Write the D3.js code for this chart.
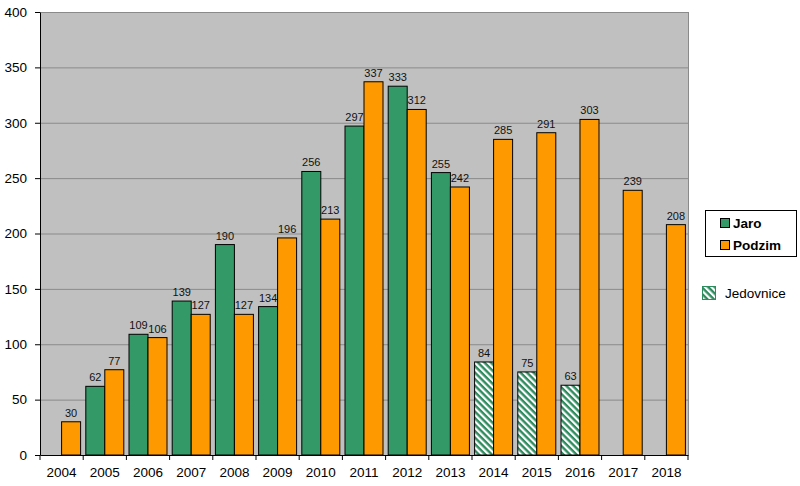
<!DOCTYPE html>
<html><head><meta charset="utf-8">
<script src="https://cdn.jsdelivr.net/npm/d3@7"></script>
<style>body{margin:0;background:#fff}svg{display:block}text{font-family:"Liberation Sans",Arial,sans-serif}</style>
</head><body><svg id="c" width="800" height="486"></svg>
<script>
const years = ["2004","2005","2006","2007","2008","2009","2010","2011","2012","2013","2014","2015","2016","2017","2018"];
const jaro = [null,62,109,139,190,134,256,297,333,255,84,75,63,null,null];
const podzim = [30,77,106,127,127,196,213,337,312,242,285,291,303,239,208];
const jedovnice = [false,false,false,false,false,false,false,false,false,false,true,true,true,false,false];
const yTicks = [0,50,100,150,200,250,300,350,400];

const svg = d3.select("#c");
const L=40, R=688, T=12, B=455;
const x = d3.scaleBand().domain(years).range([L,R]);
const y = d3.scaleLinear().domain([0,400]).range([B,T]);
const defs = svg.append("defs");
const pat = defs.append("pattern").attr("id","hatch").attr("patternUnits","userSpaceOnUse")
  .attr("width",4.6).attr("height",4.6).attr("patternTransform","rotate(45)");
pat.append("rect").attr("width",4.6).attr("height",4.6).attr("fill","#fff");
pat.append("rect").attr("width",4.6).attr("height",2.4).attr("fill","#2e8b5e");

svg.append("rect").attr("x",L).attr("y",T).attr("width",R-L).attr("height",B-T).attr("fill","#c0c0c0");
svg.append("g").selectAll("line").data(yTicks.filter(d=>d>0)).join("line")
  .attr("x1",L).attr("x2",R).attr("y1",d=>y(d)+0.5).attr("y2",d=>y(d)+0.5).attr("stroke","#8a8a8a").attr("stroke-width",1);
svg.append("line").attr("x1",R+0.5).attr("x2",R+0.5).attr("y1",T).attr("y2",B).attr("stroke","#8a8a8a");

const bw = 19;
const g = svg.append("g");
years.forEach((yr,i)=>{
  const c = x(yr)+x.bandwidth()/2;
  if(jaro[i]!=null){
    g.append("rect").attr("x",c-bw).attr("y",y(jaro[i])).attr("width",bw).attr("height",B-y(jaro[i]))
      .attr("fill",jedovnice[i]?"url(#hatch)":"#339966").attr("stroke","#000").attr("stroke-width",1);
    g.append("text").attr("x",c-bw/2).attr("y",y(jaro[i])-5).attr("text-anchor","middle").attr("font-size",11).attr("fill","#111").text(jaro[i]);
  }
  if(podzim[i]!=null){
    g.append("rect").attr("x",c).attr("y",y(podzim[i])).attr("width",bw).attr("height",B-y(podzim[i]))
      .attr("fill","#ff9900").attr("stroke","#000").attr("stroke-width",1);
    g.append("text").attr("x",c+bw/2).attr("y",y(podzim[i])-5).attr("text-anchor","middle").attr("font-size",11).attr("fill","#111").text(podzim[i]);
  }
});

const ya = svg.append("g").attr("transform",`translate(${L},0)`).call(d3.axisLeft(y).tickValues(yTicks).tickSize(5).tickSizeOuter(0));
ya.select(".domain").attr("stroke","#000");
ya.selectAll("text").attr("font-size",13.5).attr("fill","#000").attr("x",-13).attr("font-family","Liberation Sans, Arial, sans-serif");
const xa = svg.append("g").attr("transform",`translate(0,${B})`).call(d3.axisBottom(x).tickSize(0).tickSizeOuter(0));
xa.select(".domain").attr("stroke","#000");
xa.selectAll("text").attr("font-size",13.5).attr("fill","#000").attr("y",22).attr("dy",0).attr("font-family","Liberation Sans, Arial, sans-serif");
svg.append("g").selectAll("line").data(d3.range(years.length+1)).join("line")
  .attr("x1",d=>L+d*x.step()).attr("x2",d=>L+d*x.step()).attr("y1",B).attr("y2",B+5).attr("stroke","#000");

// legend
const lg = svg.append("g");
lg.append("rect").attr("x",705.5).attr("y",210.5).attr("width",91).attr("height",46).attr("fill","#fff").attr("stroke","#000");
[["Jaro","#339966",223],["Podzim","#ff9900",245]].forEach(([t,c,yy])=>{
  lg.append("rect").attr("x",720.5).attr("y",yy-4.5).attr("width",9).attr("height",9).attr("fill",c).attr("stroke","#000");
  lg.append("text").attr("x",733).attr("y",yy+5).attr("font-size",13.5).attr("font-weight","bold").attr("fill","#000").text(t);
});
lg.append("rect").attr("x",702.5).attr("y",286.5).attr("width",13).attr("height",13).attr("fill","url(#hatch)").attr("stroke","#2e8b5e");
lg.append("text").attr("x",725).attr("y",297.5).attr("font-size",13.5).attr("fill","#000").text("Jedovnice");
</script></body></html>
